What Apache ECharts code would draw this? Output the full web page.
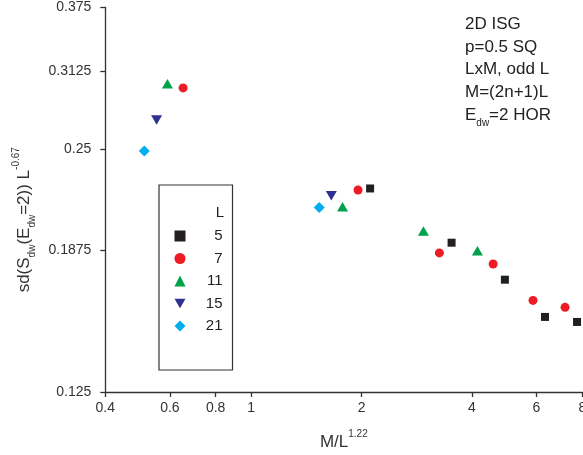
<!DOCTYPE html>
<html>
<head>
<meta charset="utf-8">
<script src="https://cdn.jsdelivr.net/npm/echarts@6/dist/echarts.min.js"></script>
<style>
html,body{margin:0;padding:0;background:#fff;}
#chart{width:583px;height:455px;}
</style>
</head>
<body>
<div id="chart"></div>
<script>
// ---- data ----
var seriesNames = ['5', '7', '11', '15', '21'];
var L5_x  = [2.11, 3.52, 4.92, 6.33, 7.74];
var L5_y  = [0.2236, 0.1915, 0.1723, 0.1549, 0.1527];
var L7_x  = [0.652, 1.956, 3.26, 4.57, 5.87, 7.18];
var L7_y  = [0.298, 0.2226, 0.186, 0.1802, 0.1624, 0.1592];
var L11_x = [0.591, 1.775, 2.95, 4.14];
var L11_y = [0.3015, 0.2122, 0.198, 0.1872];
var L15_x = [0.552, 1.654];
var L15_y = [0.272, 0.219];
var L21_x = [0.511, 1.533];
var L21_y = [0.2489, 0.2118];
var xTicks = [0.4, 0.6, 0.8, 1, 2, 4, 6, 8];
var yTicks = [0.125, 0.1875, 0.25, 0.3125, 0.375];
var infoLines = ['2D ISG', 'p=0.5 SQ', 'LxM, odd L', 'M=(2n+1)L'];

var FONT = 'Arial, "Liberation Sans", sans-serif';
var colors = ['#231f20', '#ed1c24', '#00a14b', '#2e3192', '#00aeef'];
var downTri = 'path://M0,0L20,0L10,17.3Z';
var symbols = ['rect', 'circle', 'triangle', downTri, 'diamond'];
var sizes = [[8, 8], [9, 9], [11, 9.5], [11, 9.5], [11, 11]];
var xs = [L5_x, L7_x, L11_x, L15_x, L21_x];
var ys = [L5_y, L7_y, L11_y, L15_y, L21_y];

function pairs(a, b) { return a.map(function (v, i) { return [v, b[i]]; }); }

var series = seriesNames.map(function (n, i) {
  return {
    name: n,
    type: 'scatter',
    data: pairs(xs[i], ys[i]),
    symbol: symbols[i],
    symbolSize: sizes[i],
    itemStyle: { color: colors[i], opacity: 1 },
    emphasis: { disabled: true }
  };
});

var axisLineStyle = { color: '#333', width: 1.3 };

var chart = echarts.init(document.getElementById('chart'), null, { renderer: 'canvas' });
chart.setOption({
  animation: false,
  backgroundColor: '#fff',
  grid: { left: 105.3, right: 0.7, top: 7.5, bottom: 63, containLabel: false, outerBoundsMode: 'none' },
  xAxis: {
    type: 'log',
    min: 0.4, max: 8,
    axisLine: { show: true, lineStyle: axisLineStyle },
    axisTick: { show: true, length: 5, inside: false, lineStyle: axisLineStyle, customValues: xTicks },
    minorTick: { show: false },
    splitLine: { show: false },
    axisLabel: { customValues: xTicks, fontSize: 14, fontFamily: FONT, color: '#333', margin: 9,
      hideOverlap: false,
      formatter: function (v) { return String(+v.toPrecision(6)); } },
    name: '{m|M/L}{p|1.22}',
    nameLocation: 'middle',
    nameGap: 37,
    nameTextStyle: {
      fontFamily: FONT, color: '#333',
      rich: {
        m: { fontSize: 17, fontFamily: FONT, color: '#333', lineHeight: 26, verticalAlign: 'middle' },
        p: { fontSize: 10, fontFamily: FONT, color: '#333', lineHeight: 10, verticalAlign: 'top' }
      }
    }
  },
  yAxis: {
    type: 'log',
    min: 0.125, max: 0.375,
    axisLine: { show: true, lineStyle: axisLineStyle },
    axisTick: { show: true, length: 5, inside: false, lineStyle: axisLineStyle, customValues: yTicks },
    minorTick: { show: false },
    splitLine: { show: false },
    axisLabel: { customValues: yTicks, fontSize: 14, fontFamily: FONT, color: '#333', margin: 14,
      hideOverlap: false,
      formatter: function (v) { return String(+v.toPrecision(6)); } },
    name: '{m|sd(S}{s|dw}{m|(E}{s|dw}{m|=2)) L}{p|-0.67}',
    nameLocation: 'middle',
    nameRotate: 90,
    nameGap: 68,
    nameTextStyle: {
      fontFamily: FONT, color: '#333',
      padding: [0, 40, 0, 0],
      rich: {
        m: { fontSize: 17, fontFamily: FONT, color: '#333', lineHeight: 26, verticalAlign: 'middle' },
        s: { fontSize: 10, fontFamily: FONT, color: '#333', lineHeight: 10, verticalAlign: 'bottom' },
        p: { fontSize: 10, fontFamily: FONT, color: '#333', lineHeight: 10, verticalAlign: 'top' }
      }
    }
  },
  legend: {
    orient: 'vertical',
    left: 159, top: 185,
    padding: [43.5, 10, 36.5, 15.5],
    borderColor: '#333', borderWidth: 1.2,
    itemWidth: 11, itemHeight: 11, itemGap: 7.5,
    selectedMode: false,
    data: seriesNames,
    formatter: function (n) { return '{a|' + n + '}'; },
    textStyle: {
      fontFamily: FONT, fontSize: 15, color: '#222',
      rich: { a: { fontFamily: FONT, fontSize: 15, color: '#222', width: 32, align: 'right' } }
    }
  },
  graphic: [
    { type: 'text', x: 224, y: 212.5,
      style: { text: 'L', fontFamily: FONT, fontSize: 15, fill: '#222', align: 'right', verticalAlign: 'middle' } },
    { type: 'group', children: infoLines.map(function (t, i) {
        return { type: 'text', x: 465, y: 24.5 + i * 22.6,
          style: { text: t, fontFamily: FONT, fontSize: 17, fill: '#222', align: 'left', verticalAlign: 'middle' } };
      }).concat([{
        type: 'text', x: 465, y: 24.5 + 4 * 22.6,
        style: {
          text: '{m|E}{s|dw}{m|=2 HOR}', align: 'left', verticalAlign: 'middle', fill: '#222',
          fontFamily: FONT, fontSize: 17,
          rich: {
            m: { fontFamily: FONT, fontSize: 17, fill: '#222', lineHeight: 26, verticalAlign: 'middle' },
            s: { fontFamily: FONT, fontSize: 10, fill: '#222', lineHeight: 10, verticalAlign: 'bottom' }
          }
        }
      }])
    }
  ],
  series: series
});
</script>
</body>
</html>
